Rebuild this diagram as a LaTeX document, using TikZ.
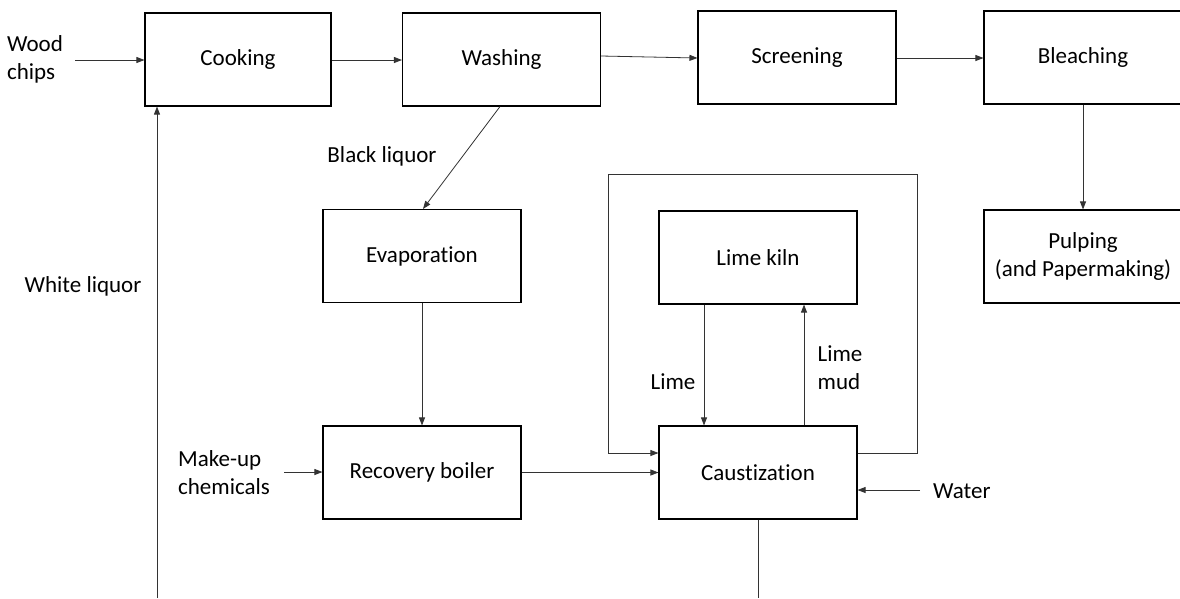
\documentclass[tikz,border=0pt]{standalone}
\usepackage{fontspec}
\setmainfont[Ligatures={NoCommon}]{Carlito}
\usetikzlibrary{arrows.meta}
\begin{document}
\begin{tikzpicture}[x=1pt,y=-1pt,
  box/.style={draw=black,line width=1.1pt,minimum width=198pt,minimum height=93pt,inner sep=0pt,align=center,font=\fontsize{23}{28}\selectfont},
  lbl/.style={inner sep=0pt,align=left,font=\fontsize{23}{28}\selectfont},
  flow/.style={draw=black!80,line width=0.8pt,-{Triangle[length=8pt,width=6pt]}},
  plain/.style={draw=black!80,line width=0.8pt}]
\useasboundingbox (0,0) rectangle (1180,598);
\node[box,minimum width=186pt] (cook) at (238,59.5) {Cooking};
\node[box] (wash) at (501.5,59.5) {Washing};
\node[box] (scr) at (797,57.5) {Screening};
\node[box] (blea) at (1083,57.5) {Bleaching};
\node[box] (pulp) at (1083,256.5) {Pulping\\(and Papermaking)};
\node[box] (evap) at (422,256) {Evaporation};
\node[box] (reco) at (422,472.5) {Recovery boiler};
\node[box] (kiln) at (758,257.5) {Lime kiln};
\node[box] (caus) at (758,472.5) {Caustization};
% labels
\node[lbl] (wood) at (35,59) {Wood\\chips};
\node[lbl] (white) at (83,286) {White liquor};
\node[lbl] (black) at (382,156) {Black liquor};
\node[lbl] (makeup) at (224,473) {Make-up\\chemicals};
\node[lbl] (lime) at (673,382) {Lime};
\node[lbl] (mud) at (840,368) {Lime\\mud};
\node[lbl,anchor=west] (water) at (933,491) {Water};
% free-end coordinates
\coordinate (woodend) at (75,60);
\coordinate (wlbot) at (157,598);
\coordinate (mkend) at (284,472);
\coordinate (wtend) at (920,490);
\coordinate (causbot) at (758,598);
\coordinate (lpTL) at (608,174);
\coordinate (lpTR) at (917,174);
% connectors
\draw[flow] (woodend) -- (woodend -| cook.west);
\draw[flow] (cook.east |- 0,60) -- (wash.west |- 0,60);
\draw[flow] (wash.east |- 0,56) -- (scr.west |- 0,58);
\draw[flow] (scr.east |- 0,58) -- (blea.west |- 0,58);
\draw[flow] (blea.south) -- (pulp.north);
\draw[flow] (wlbot) -- (wlbot |- cook.south);
\draw[flow] (wash.south -| 500,0) -- (evap.north -| 423,0);
\draw[flow] (evap.south) -- (reco.north);
\draw[flow] (mkend) -- (mkend -| reco.west);
\draw[flow] (reco.east) -- (caus.west);
\draw[flow] (kiln.south -| 704,0) -- (caus.north -| 704,0);
\draw[flow] (caus.north -| 804,0) -- (kiln.south -| 804,0);
\draw[flow] (caus.east |- 0,453) -- (lpTR |- 0,453) -- (lpTR) -- (lpTL) -- (lpTL |- 0,453) -- (caus.west |- 0,453);
\draw[flow] (wtend) -- (wtend -| caus.east);
\draw[plain] (caus.south) -- (causbot);
\end{tikzpicture}
\end{document}
